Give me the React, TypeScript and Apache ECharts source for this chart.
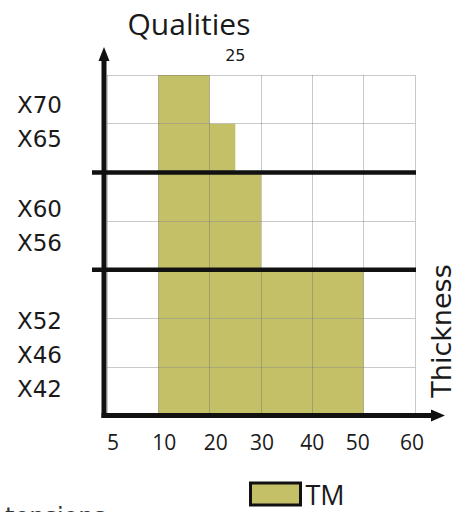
import React, { useEffect, useRef } from 'react';
import * as echarts from 'echarts';

// ---------- data ----------
const thicknessTicks = [5, 10, 20, 30, 40, 50, 60];
const qualities = ['X70', 'X65', 'X60', 'X56', 'X52', 'X46', 'X42'];
const minThickness = [10, 10, 10, 10, 10, 10, 10];
const maxThickness = [20, 25, 30, 30, 50, 50, 50];
const groupSizes = [2, 2, 3];
const highlightedThickness = [25];
const seriesName = 'TM';
const titleText = 'Qualities';
const axisName = 'Thickness';
const footnote = 'tensions :';

// ---------- layout / style ----------
const W = 465;
const H = 512;
const GRID = { left: 107, top: 75, right: 50, bottom: 96 };
const FILL = '#c4c068';
const GRID_LINE = 'rgba(100,100,100,0.35)';
const INK = '#1a1a1a';
const yLabelOffsets = [6, -9, 12, -3, 27, 12, -3];
const xLabelShift = [6, 6, 6, 1, 0, -6, -3];

function toSlot(t: number): number {
  for (let i = 0; i < thicknessTicks.length - 1; i++) {
    const a = thicknessTicks[i];
    const b = thicknessTicks[i + 1];
    if (t >= a && t <= b) return i + (t - a) / (b - a);
  }
  return t < thicknessTicks[0] ? 0 : thicknessTicks.length - 1;
}

export default function App() {
  const ref = useRef<HTMLDivElement>(null);

  useEffect(() => {
    if (!ref.current) return;
    const chart = echarts.init(ref.current, undefined, { renderer: 'svg' });
    const nRows = qualities.length;
    const nSlots = thicknessTicks.length - 1;

    const fillData = qualities.map((q, r) => [
      toSlot(minThickness[r]),
      toSlot(maxThickness[r]),
      nRows - r - 1,
      nRows - r,
      q,
    ]);
    const labelData = qualities.map((q, r) => [0, nRows - r - 0.5, r]);
    const breaks: number[][] = [];
    let acc = 0;
    for (let g = 0; g < groupSizes.length - 1; g++) {
      acc += groupSizes[g];
      breaks.push([0, nRows - acc]);
    }

    const rich: Record<string, any> = {};
    xLabelShift.forEach((s, i) => {
      rich['s' + i] = {
        fontFamily: 'Open Sans',
        fontSize: 21,
        color: INK,
        padding: s >= 0 ? [0, 0, 0, 2 * s] : [0, -2 * s, 0, 0],
      };
    });

    const hlSlot = toSlot(highlightedThickness[0]);
    const axisX = GRID.left - 3;
    const axisY = H - GRID.bottom - 0.5;

    chart.setOption({
      animation: false,
      backgroundColor: '#ffffff',
      title: {
        text: titleText,
        left: 184,
        top: 3,
        textAlign: 'center',
        textStyle: { fontFamily: 'Open Sans', fontSize: 30, fontWeight: 'normal', color: INK },
      },
      legend: {
        left: 244,
        top: 475,
        itemWidth: 50,
        itemHeight: 22,
        selectedMode: false,
        data: [
          {
            name: seriesName,
            icon: 'rect',
            itemStyle: { color: FILL, borderColor: '#111', borderWidth: 3 },
          },
        ],
        textStyle: { fontFamily: 'Open Sans', fontSize: 27, lineHeight: 28, color: INK },
      },
      grid: { left: GRID.left, top: GRID.top, right: GRID.right, bottom: GRID.bottom, containLabel: false },
      xAxis: [
        {
          type: 'value',
          min: 0,
          max: nSlots,
          interval: 1,
          position: 'bottom',
          z: 3,
          axisLine: { show: false },
          axisTick: { show: false },
          splitLine: { show: true, lineStyle: { color: GRID_LINE, width: 1 } },
          axisLabel: {
            margin: 15,
            formatter: (v: number) => {
              const i = Math.round(v);
              return '{s' + i + '|' + thicknessTicks[i] + '}';
            },
            rich,
          },
        },
        {
          type: 'value',
          min: 0,
          max: nSlots,
          interval: hlSlot,
          position: 'top',
          axisLine: { show: false },
          axisTick: { show: false },
          splitLine: { show: false },
          axisLabel: {
            margin: 12,
            fontFamily: 'DejaVu Sans',
            fontSize: 16,
            color: INK,
            formatter: (v: number) =>
              Math.abs(v - hlSlot) < 1e-6 ? String(highlightedThickness[0]) : '',
          },
        },
      ],
      yAxis: {
        type: 'value',
        min: 0,
        max: nRows,
        interval: 1,
        z: 3,
        axisLine: { show: false },
        axisTick: { show: false },
        axisLabel: { show: false },
        splitLine: { show: true, lineStyle: { color: GRID_LINE, width: 1 } },
      },
      series: [
        {
          name: seriesName,
          type: 'custom',
          z: 2,
          itemStyle: { color: FILL },
          encode: { x: [0, 1], y: [2, 3] },
          data: fillData,
          renderItem: (params: any, api: any) => {
            const p1 = api.coord([api.value(0), api.value(3)]);
            const p2 = api.coord([api.value(1), api.value(2)]);
            return {
              type: 'rect',
              shape: { x: p1[0], y: p1[1], width: p2[0] - p1[0], height: p2[1] - p1[1] },
              style: { fill: FILL },
            };
          },
        },
        {
          name: 'labels',
          type: 'custom',
          silent: true,
          z: 5,
          data: labelData,
          encode: { x: 0, y: 1 },
          renderItem: (params: any, api: any) => {
            const r = api.value(2);
            const p = api.coord([0, api.value(1)]);
            return {
              type: 'text',
              x: p[0] - 45,
              y: p[1] + yLabelOffsets[r],
              style: {
                text: qualities[r],
                fill: INK,
                fontFamily: 'DejaVu Sans',
                fontSize: 23,
                align: 'right',
                verticalAlign: 'middle',
              },
            };
          },
        },
        {
          name: 'groups',
          type: 'custom',
          silent: true,
          z: 6,
          data: breaks,
          encode: { x: 0, y: 1 },
          renderItem: (params: any, api: any) => {
            const a = api.coord([0, api.value(1)]);
            const b = api.coord([nSlots, api.value(1)]);
            return {
              type: 'line',
              shape: { x1: a[0] - 15, y1: a[1], x2: b[0] + 1, y2: b[1] },
              style: { stroke: '#111', lineWidth: 4.5 },
            };
          },
        },
      ],
      graphic: [
        {
          type: 'line',
          z: 10,
          shape: { x1: axisX, y1: axisY + 2.5, x2: axisX, y2: 58 },
          style: { stroke: '#111', lineWidth: 5 },
        },
        {
          type: 'polygon',
          z: 10,
          shape: { points: [[axisX - 5.5, 61], [axisX + 5.5, 61], [axisX, 47]] },
          style: { fill: '#111' },
        },
        {
          type: 'line',
          z: 10,
          shape: { x1: axisX - 2.5, y1: axisY, x2: 434, y2: axisY },
          style: { stroke: '#111', lineWidth: 5 },
        },
        {
          type: 'polygon',
          z: 10,
          shape: { points: [[431, axisY - 6], [431, axisY + 6], [445, axisY]] },
          style: { fill: '#111' },
        },
        {
          type: 'text',
          z: 10,
          x: 441,
          y: 331,
          rotation: Math.PI / 2,
          style: {
            text: axisName,
            fill: INK,
            fontFamily: 'DejaVu Sans',
            fontSize: 27,
            align: 'center',
            verticalAlign: 'middle',
          },
        },
        {
          type: 'text',
          z: 10,
          x: 5,
          y: 505,
          style: {
            text: footnote,
            fill: '#333',
            fontFamily: 'DejaVu Sans',
            fontSize: 24,
            align: 'left',
            verticalAlign: 'top',
          },
        },
      ],
    });

    return () => {
      chart.dispose();
    };
  }, []);

  return (
    <div
      ref={ref}
      style={{ position: 'fixed', left: 0, top: 0, width: W, height: H, background: '#fff' }}
    />
  );
}
